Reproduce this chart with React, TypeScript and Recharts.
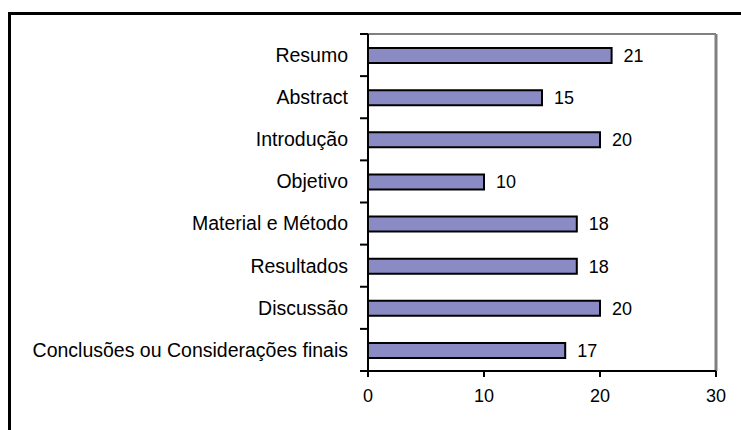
import React from "react";
import { BarChart, Bar, XAxis, YAxis, LabelList, ReferenceLine } from "recharts";

const categories = [
  "Resumo",
  "Abstract",
  "Introdução",
  "Objetivo",
  "Material e Método",
  "Resultados",
  "Discussão",
  "Conclusões ou Considerações finais",
];
const counts = [21, 15, 20, 10, 18, 18, 20, 17];
const xTicks = [0, 10, 20, 30];

const data = categories.map((name, i) => ({ name, value: counts[i] }));

const W = 741;
const H = 430;
const FONT = "'Liberation Sans', Arial, sans-serif";
const FS_CAT = 19.5;
const FS_NUM = 18;
const Y_TICK = 8;
const Y_MARGIN = 12;

// category labels, with the tick marks drawn on band boundaries instead of centers
function CategoryTick(props: any) {
  const { x, y, payload, index, visibleTicksCount } = props;
  const axisX = x + Y_TICK + Y_MARGIN;
  const half = payload?.offset ?? 21;
  const isLast = index === (visibleTicksCount ?? categories.length) - 1;
  return (
    <g>
      <line x1={axisX - Y_TICK} x2={axisX} y1={y - half} y2={y - half} stroke="#000" strokeWidth={2} />
      {isLast && (
        <line x1={axisX - Y_TICK} x2={axisX} y1={y + half} y2={y + half} stroke="#000" strokeWidth={2} />
      )}
      <text x={x} y={y} dy="0.35em" textAnchor="end" fill="#000" fontSize={FS_CAT} fontFamily={FONT}>
        {payload.value}
      </text>
    </g>
  );
}

export default function App() {
  return (
    <div style={{ position: "fixed", left: 0, top: 0, width: W, height: H, overflow: "hidden", background: "#fff" }}>
      <div
        style={{
          position: "absolute",
          left: 8,
          top: 12,
          width: 800,
          height: 500,
          borderLeft: "3px solid #000",
          borderTop: "3px solid #000",
          boxSizing: "border-box",
        }}
      />
      <div style={{ position: "absolute", left: 0, top: 0 }}>
        <BarChart
          width={W}
          height={H}
          data={data}
          layout="vertical"
          margin={{ top: 33, right: 25, bottom: 0, left: 0 }}
          barCategoryGap={0}
        >
          <XAxis
            type="number"
            domain={[0, 30]}
            ticks={xTicks}
            axisLine={{ stroke: "#000", strokeWidth: 2 }}
            tickLine={{ stroke: "#000", strokeWidth: 2 }}
            tickSize={6}
            tickMargin={12}
            height={59}
            tick={{ fill: "#000", fontSize: FS_NUM, fontFamily: FONT }}
          />
          <XAxis
            xAxisId="top"
            orientation="top"
            type="number"
            domain={[0, 30]}
            height={1}
            tick={false}
            tickLine={false}
            axisLine={{ stroke: "#808080", strokeWidth: 2 }}
          />
          <YAxis
            type="category"
            dataKey="name"
            width={368}
            axisLine={{ stroke: "#000", strokeWidth: 2 }}
            tickLine={false}
            tickSize={Y_TICK}
            tickMargin={Y_MARGIN}
            tick={<CategoryTick />}
            interval={0}
          />
          <ReferenceLine x={30} stroke="#808080" strokeWidth={3} />
          <Bar
            dataKey="value"
            fill="#8A8AC4"
            stroke="#000"
            strokeWidth={2}
            barSize={15}
            isAnimationActive={false}
          >
            <LabelList dataKey="value" position="right" offset={12} fill="#000" fontSize={FS_NUM} fontFamily={FONT} />
          </Bar>
        </BarChart>
      </div>
    </div>
  );
}
